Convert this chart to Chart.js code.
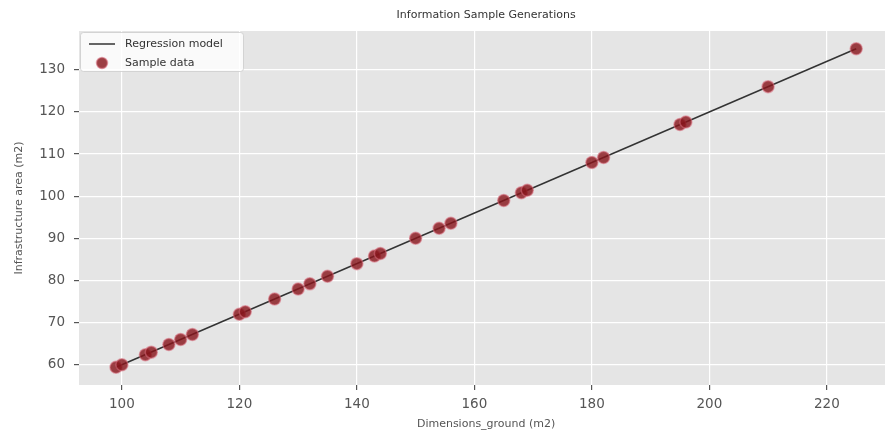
<!DOCTYPE html>
<html>
<head>
<meta charset="utf-8">
<script src="https://cdn.jsdelivr.net/npm/chart.js@4"></script>
<style>
  html, body { margin: 0; padding: 0; background: #fff; overflow: hidden; }
  #wrap { width: 885px; height: 434px; }
</style>
</head>
<body>
<div id="wrap"><canvas id="chart" width="885" height="434"></canvas></div>
<script>
// sample data
const groundX = [99, 100, 104, 105, 108, 110, 112, 120, 121, 126, 130, 132, 135, 140, 143, 144,
  150, 154, 156, 165, 168, 169, 180, 182, 195, 196, 210, 225];
const areaY = [59.4, 60, 62.4, 63, 64.8, 66, 67.2, 72, 72.6, 75.6, 78, 79.2, 81, 84, 85.8, 86.4,
  90, 92.4, 93.6, 99, 100.8, 101.4, 108, 109.2, 117, 117.6, 126, 135];

// regression line end points
const modelX = [99, 225];
const modelY = [59.4, 135];

const xTicks = [100, 120, 140, 160, 180, 200, 220];
const yTicks = [60, 70, 80, 90, 100, 110, 120, 130];

const titleText = 'Information Sample Generations';
const xLabel = 'Dimensions_ground (m2)';
const yLabel = 'Infrastructure area (m2)';

const FONT = "'DejaVu Sans', sans-serif";
// the original figure is cut off on the right; text is centred on the full axes
const X_CENTRE = 162;

const plotBg = {
  id: 'plotBg',
  beforeDraw(chart) {
    const { ctx, chartArea: a } = chart;
    ctx.save();
    ctx.fillStyle = '#e5e5e5';
    ctx.fillRect(a.left, a.top, a.right - a.left, a.bottom - a.top);
    ctx.restore();
  }
};

const textAndLegend = {
  id: 'textAndLegend',
  afterDraw(chart) {
    const { ctx, chartArea: a } = chart;
    const cx = chart.scales.x.getPixelForValue(X_CENTRE);
    ctx.save();
    // title
    ctx.fillStyle = '#333';
    ctx.font = '11px ' + FONT;
    ctx.textAlign = 'center';
    ctx.textBaseline = 'middle';
    ctx.fillText(titleText, cx, 15);
    // x axis label
    ctx.fillStyle = '#555';
    ctx.fillText(xLabel, cx, 424);

    // legend box
    const bx = a.left + 1, by = a.top + 1, bw = 163, bh = 39;
    ctx.fillStyle = 'rgba(255,255,255,0.8)';
    ctx.strokeStyle = 'rgba(204,204,204,0.8)';
    ctx.lineWidth = 1;
    ctx.beginPath();
    ctx.roundRect(bx + 0.5, by + 0.5, bw, bh, 3);
    ctx.fill();
    ctx.stroke();

    const line = chart.data.datasets[0];
    const pts = chart.data.datasets[1];
    ctx.strokeStyle = line.borderColor;
    ctx.lineWidth = line.borderWidth;
    ctx.beginPath();
    ctx.moveTo(bx + 9, by + 12);
    ctx.lineTo(bx + 35, by + 12);
    ctx.stroke();

    ctx.fillStyle = pts.backgroundColor;
    ctx.strokeStyle = pts.borderColor;
    ctx.lineWidth = pts.borderWidth;
    ctx.beginPath();
    ctx.arc(bx + 22, by + 31, 5.5, 0, Math.PI * 2);
    ctx.fill();
    ctx.stroke();

    ctx.fillStyle = '#333';
    ctx.textAlign = 'left';
    ctx.fillText(line.label, bx + 45, by + 12);
    ctx.fillText(pts.label, bx + 45, by + 31);
    ctx.restore();
  }
};

const axisCommon = {
  border: { display: false },
  grid: { color: '#ffffff', lineWidth: 1.2, tickColor: '#555', tickLength: 5 },
  ticks: { color: '#555', font: { family: FONT, size: 13.5 } }
};

new Chart(document.getElementById('chart'), {
  type: 'scatter',
  data: {
    datasets: [
      {
        label: 'Regression model',
        data: modelX.map((x, i) => ({ x, y: modelY[i] })),
        showLine: true,
        borderColor: '#333333',
        borderWidth: 1.5,
        pointRadius: 0,
        order: 1
      },
      {
        label: 'Sample data',
        data: groundX.map((x, i) => ({ x, y: areaY[i] })),
        backgroundColor: 'rgba(135,22,28,0.82)',
        borderColor: 'rgba(215,110,125,0.55)',
        borderWidth: 1.5,
        pointRadius: 6,
        order: 0
      }
    ]
  },
  options: {
    responsive: false,
    animation: false,
    layout: { autoPadding: false, padding: { top: 31, right: 0, left: 0, bottom: 0 } },
    plugins: { legend: { display: false }, tooltip: { enabled: false } },
    scales: {
      x: {
        ...axisCommon,
        min: 92.7,
        max: 229.9,
        ticks: { ...axisCommon.ticks, padding: 6 },
        afterBuildTicks: (s) => { s.ticks = xTicks.map(v => ({ value: v })); },
        afterFit: (s) => { s.height = 49; s.paddingLeft = 0; s.paddingRight = 0; }
      },
      y: {
        ...axisCommon,
        min: 55.2,
        max: 139.2,
        ticks: { ...axisCommon.ticks, padding: 9 },
        title: { display: true, text: yLabel, color: '#555', font: { family: FONT, size: 11 }, padding: { top: 13, bottom: 0 } },
        afterBuildTicks: (s) => { s.ticks = yTicks.map(v => ({ value: v })); },
        afterFit: (s) => { s.width = 79; s.paddingTop = 0; s.paddingBottom = 0; }
      }
    }
  },
  plugins: [plotBg, textAndLegend]
});
</script>
</body>
</html>
